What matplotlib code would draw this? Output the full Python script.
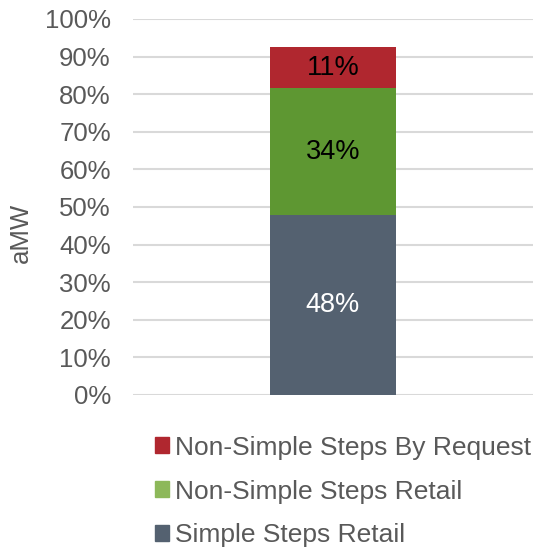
import matplotlib
matplotlib.use("Agg")
import matplotlib.pyplot as plt
from matplotlib.patches import Patch

plt.rcParams["font.family"] = ["Liberation Sans", "DejaVu Sans"]

# --- Data (share of aMW) ---
series = ["Simple Steps Retail", "Non-Simple Steps Retail", "Non-Simple Steps By Request"]
values = [47.8, 33.8, 10.9]
labels = ["48%", "34%", "11%"]
bar_colors = ["#546170", "#5E9732", "#B0272F"]
swatch_colors = ["#546170", "#8DB85A", "#B0272F"]
label_colors = ["white", "black", "black"]
yticks = list(range(0, 101, 10))

fs = 18.5

fig = plt.figure(figsize=(5.35, 5.48), dpi=100)
ax = fig.add_axes([133 / 535, 1 - 395 / 548, 400 / 535, 376 / 548])

bottom = 0
for val, lab, col, lcol in zip(values, labels, bar_colors, label_colors):
    ax.bar(0, val, width=0.315, bottom=bottom, color=col, zorder=3)
    ax.text(0, bottom + val / 2, lab, ha="center", va="center",
            fontsize=19.5, color=lcol, zorder=4)
    bottom += val

ax.set_xlim(-0.5, 0.5)
ax.set_ylim(0, 100)
ax.set_xticks([])
ax.set_yticks(yticks)
ax.set_yticklabels([f"{t}%" for t in yticks], fontsize=fs, color="#595959")
ax.tick_params(axis="y", length=0, pad=16)
ax.grid(axis="y", color="#D9D9D9", linewidth=1.5, zorder=0)
for s in ax.spines.values():
    s.set_visible(False)

ax.set_ylabel("aMW", fontsize=fs, color="#595959")
ax.yaxis.set_label_coords(-0.25, 0.43)

handles = [Patch(color=c) for c in swatch_colors[::-1]]
fig.legend(handles, series[::-1], loc="upper left", bbox_to_anchor=(131 / 535, 1 - 412 / 548),
           frameon=False, fontsize=19, labelcolor="#595959",
           handlelength=0.55, handleheight=0.55, handletextpad=0.22, labelspacing=0.75)

fig.savefig("out.png", dpi=100)
